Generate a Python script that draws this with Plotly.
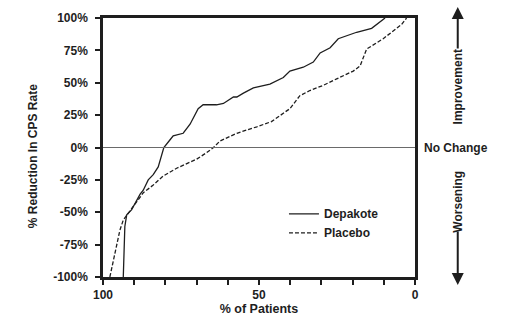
import plotly.graph_objects as go

# Data
dep_x = [93.5, 93.2, 93.0, 92.4, 90.8, 88.1, 87.1, 85.5, 83.9, 82.3, 80.5, 78.5, 77.5, 74.3, 72.1,
         69.5, 67.9, 63.6, 61.4, 58.2, 57.1, 55.0, 51.8, 46.5, 42.2, 40.1, 35.8, 32.6, 30.4, 27.2,
         24.6, 18.7, 13.9, 9.6]
dep_y = [-100, -79, -61, -52, -48, -36, -33, -25, -21, -15, 0, 6, 9, 11, 18,
         30, 33, 33, 34, 39, 39, 42, 46, 49, 54, 59, 62, 66, 73, 77,
         84, 89, 92, 100]
pla_x = [97.8, 96.7, 95.6, 94.6, 93.5, 91.3, 89.2, 87.1, 83.9, 80.7, 76.4, 70.0, 66.8, 64.6, 62.5,
         57.1, 50.7, 46.0, 40.1, 38.5, 36.9, 33.7, 29.4, 25.1, 19.8, 17.6, 15.5, 10.2, 7.0, 4.3, 2.7]
pla_y = [-100, -87, -74, -64, -56, -49, -42, -35, -29, -22, -16, -9, -4, 0, 5,
         11, 16, 20, 30, 35, 40, 44, 48, 53, 59, 63, 76, 84, 90, 95, 100]

x_ticks = [100, 90, 80, 70, 60, 50, 40, 30, 20, 10, 0]
x_labels = ["100", "", "", "", "", "50", "", "", "", "", "0"]
y_ticks = [-100, -75, -50, -25, 0, 25, 50, 75, 100]
y_labels = ["-100%", "-75%", "-50%", "-25%", "0%", "25%", "50%", "75%", "100%"]

FONT = "Liberation Sans"
INK = "#1e1e1e"
BOLD12 = dict(family=FONT, size=12, weight="bold", color=INK)
XTITLE = dict(family=FONT, size=12.5, weight="bold", color=INK)
YTITLE = dict(family=FONT, size=12, weight="bold", color=INK)

fig = go.Figure()
fig.add_trace(go.Scatter(x=dep_x, y=dep_y, mode="lines", name="Depakote",
                         line=dict(color=INK, width=1.3)))
fig.add_trace(go.Scatter(x=pla_x, y=pla_y, mode="lines", name="Placebo",
                         line=dict(color=INK, width=1.3, dash="4px,2px")))

fig.add_hline(y=0, line=dict(color="#6a6a6a", width=1))

fig.update_layout(
    width=507, height=331,
    margin=dict(l=103, r=92, t=18, b=54),
    paper_bgcolor="white", plot_bgcolor="white",
    font=BOLD12,
    showlegend=True,
    legend=dict(x=0.58, y=0.30, xanchor="left", yanchor="top",
                bgcolor="rgba(0,0,0,0)", font=BOLD12,
                tracegroupgap=0, itemwidth=30),
)
fig.update_xaxes(range=[100, 0], tickvals=x_ticks, ticktext=x_labels,
                 ticks="outside", ticklen=5, tickwidth=2, tickcolor=INK,
                 showline=True, linewidth=2.5, linecolor=INK, mirror=True,
                 showgrid=False, zeroline=False,
                 title=dict(text="% of Patients", standoff=1, font=XTITLE),
                 tickfont=BOLD12)
fig.update_yaxes(range=[-100, 100], tickvals=y_ticks, ticktext=y_labels,
                 ticks="outside", ticklen=5, tickwidth=2, tickcolor=INK,
                 ticklabelstandoff=5,
                 showline=True, linewidth=2.5, linecolor=INK, mirror=True,
                 showgrid=False, zeroline=False,
                 tickfont=BOLD12)

# Y-axis title (placed as in the reference, slightly below centre)
fig.add_annotation(xref="paper", yref="paper", x=-0.224, y=0.467,
                   text="% Reduction In CPS Rate", showarrow=False, textangle=-90,
                   xanchor="center", yanchor="middle", font=YTITLE)

# Right-side annotations
fig.add_annotation(xref="paper", yref="y", x=1.13, y=0, text="No Change",
                   showarrow=False, font=BOLD12, xanchor="center")
fig.add_annotation(xref="paper", yref="y", x=1.137, y=47, text="Improvement",
                   showarrow=False, textangle=-90, xanchor="center", yanchor="middle",
                   font=BOLD12)
fig.add_annotation(xref="paper", yref="y", x=1.137, y=-42, text="Worsening",
                   showarrow=False, textangle=-90, xanchor="center", yanchor="middle",
                   font=BOLD12)
# arrows
fig.add_annotation(xref="paper", yref="paper", axref="pixel", ayref="pixel",
                   x=1.137, y=1.042, ax=0, ay=43, text="", showarrow=True,
                   arrowhead=2, arrowsize=1.2, arrowwidth=2, arrowcolor=INK)
fig.add_annotation(xref="paper", yref="paper", axref="pixel", ayref="pixel",
                   x=1.137, y=-0.031, ax=0, ay=-55, text="", showarrow=True,
                   arrowhead=2, arrowsize=1.2, arrowwidth=2, arrowcolor=INK)

fig.write_html("out.html")
